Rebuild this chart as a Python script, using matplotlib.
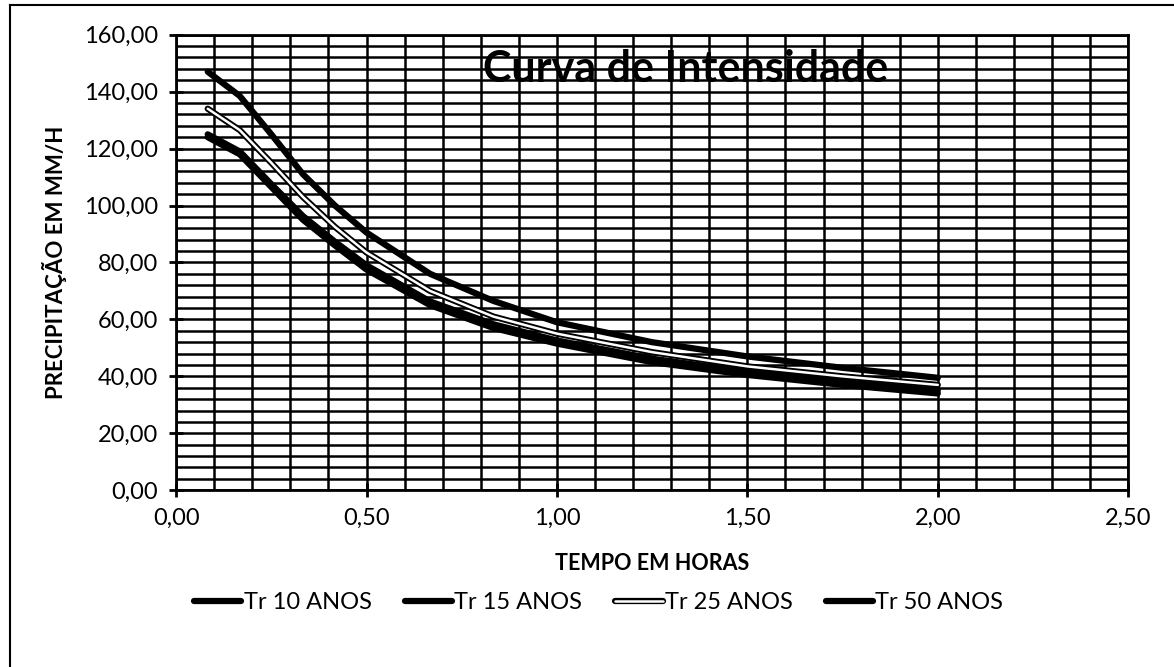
import matplotlib
matplotlib.use("Agg")
import matplotlib.pyplot as plt
import matplotlib.patheffects as pe
from matplotlib.ticker import MultipleLocator, FuncFormatter
from matplotlib.lines import Line2D

plt.rcParams['font.family'] = ['Lato', 'DejaVu Sans']

# tempo (horas) e intensidade (mm/h)
tempo = [0.083, 0.167, 0.25, 0.333, 0.417, 0.5, 0.667, 0.833, 1.0, 1.25, 1.5, 1.75, 2.0]
tr10 = [124.0, 118.0, 106.5, 95.0, 86.0, 77.5, 65.0, 57.0, 51.5, 45.0, 40.5, 37.0, 34.0]
tr15 = [125.0, 119.0, 107.5, 96.3, 87.3, 79.0, 66.3, 58.3, 52.6, 46.2, 41.6, 38.0, 35.0]
tr25 = [134.0, 126.5, 115.0, 103.0, 92.5, 83.5, 70.0, 61.0, 55.0, 48.5, 43.5, 40.0, 37.0]
tr50 = [147.0, 138.5, 125.0, 111.0, 100.0, 90.5, 76.0, 66.5, 59.0, 52.0, 47.0, 43.0, 39.5]
series_labels = ['Tr 10 ANOS', 'Tr 15 ANOS', 'Tr 25 ANOS', 'Tr 50 ANOS']


def virgula(v, pos):
    return f"{v:.2f}".replace('.', ',')


fig = plt.figure(figsize=(11.74, 6.67), dpi=100)
ax = fig.add_axes([0.150, 0.265, 0.811, 0.683])

lw = 4.5
ax.plot(tempo, tr10, color='black', lw=lw, solid_capstyle='round', label=series_labels[0], zorder=3)
ax.plot(tempo, tr15, color='black', lw=lw, solid_capstyle='round', label=series_labels[1], zorder=3)
ax.plot(tempo, tr25, color='white', lw=1.8, solid_capstyle='round', label=series_labels[2], zorder=4,
        path_effects=[pe.Stroke(linewidth=lw, foreground='black'), pe.Normal()])
ax.plot(tempo, tr50, color='black', lw=lw, solid_capstyle='round', label=series_labels[3], zorder=3)

ax.set_xlim(0, 2.5)
ax.set_ylim(0, 160)
ax.xaxis.set_major_locator(MultipleLocator(0.5))
ax.xaxis.set_minor_locator(MultipleLocator(0.1))
ax.yaxis.set_major_locator(MultipleLocator(20))
ax.yaxis.set_minor_locator(MultipleLocator(4))
ax.xaxis.set_major_formatter(FuncFormatter(virgula))
ax.yaxis.set_major_formatter(FuncFormatter(virgula))

ax.grid(True, which='both', color='black', lw=1.8)
ax.set_axisbelow(True)
for s in ax.spines.values():
    s.set_linewidth(2)
ax.tick_params(which='major', direction='inout', length=10, width=2, labelsize=17, pad=8)
ax.tick_params(which='minor', length=0)

ax.set_xlabel('TEMPO EM HORAS', fontsize=15.5, fontweight='bold', labelpad=17)
ax.set_ylabel('PRECIPITAÇÃO EM MM/H', fontsize=16, fontweight='bold', labelpad=12)

ax.text(0.535, 0.925, 'Curva de Intensidade', transform=ax.transAxes, ha='center', va='center',
        fontsize=31, fontweight='bold', zorder=5)

fig.legend(loc='center', bbox_to_anchor=(0.51, 0.097), ncol=4, frameon=False, fontsize=17,
           handlelength=2.0, handletextpad=0.1, columnspacing=1.4)

# moldura do grafico
fig.add_artist(Line2D([10 / 1174, 1.0], [1 - 5 / 667, 1 - 5 / 667], transform=fig.transFigure, color='black', lw=1.5))
fig.add_artist(Line2D([10 / 1174, 10 / 1174], [0.0, 1 - 5 / 667], transform=fig.transFigure, color='black', lw=1.5))

fig.savefig('out.png', dpi=100)
